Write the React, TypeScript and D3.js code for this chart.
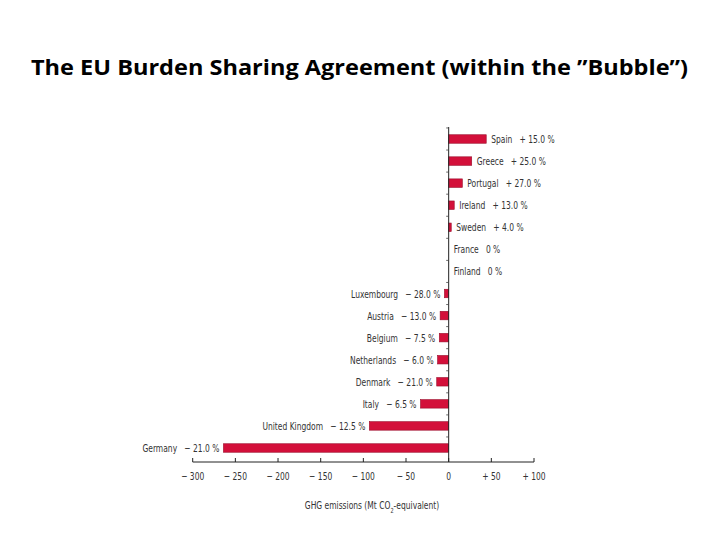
import React from "react";
import * as d3 from "d3";

const countries = ["Spain", "Greece", "Portugal", "Ireland", "Sweden", "France", "Finland", "Luxembourg", "Austria", "Belgium", "Netherlands", "Denmark", "Italy", "United Kingdom", "Germany"];
const emissions = [44, 27, 16, 6.5, 3, 0, 0, -5, -10, -11, -13, -14, -33, -93, -264];
const targets = ["+ 15.0 %", "+ 25.0 %", "+ 27.0 %", "+ 13.0 %", "+ 4.0 %", "0 %", "0 %", "− 28.0 %", "− 13.0 %", "− 7.5 %", "− 6.0 %", "− 21.0 %", "− 6.5 %", "− 12.5 %", "− 21.0 %"];
const xTicks = [-300, -250, -200, -150, -100, -50, 0, 50, 100];
const xTickLabels = ["− 300", "− 250", "− 200", "− 150", "− 100", "− 50", "0", "+ 50", "+ 100"];
const titleText = "The EU Burden Sharing Agreement (within the ”Bubble”)";

const FONT = "'DejaVu Sans Condensed', 'DejaVu Sans', sans-serif";
const SX = 0.8;

function SText(props: { x: number; y: number; anchor: "start" | "middle" | "end"; size: number; children: React.ReactNode }) {
  return (
    <text
      transform={`translate(${props.x},${props.y}) scale(${SX},1)`}
      textAnchor={props.anchor}
      fontFamily={FONT}
      fontSize={props.size}
      fill="#333"
      style={{ whiteSpace: "pre" }}
    >
      {props.children}
    </text>
  );
}

export default function App() {
  const x = d3.scaleLinear().domain([-300, 100]).range([192.7, 534]);
  const y = d3.scalePoint<string>().domain(countries).range([139, 448]);
  const step = y.step();
  const barH = 8.5;
  const axisY = 462;
  const x0 = x(0);
  const boundaries = d3.range(countries.length + 1).map((i) => 139 - step / 2 + i * step);

  return (
    <svg width={720} height={540} style={{ position: "absolute", left: 0, top: 0, background: "#fff" }}>
      <text x={359.5} y={75} textAnchor="middle" fontFamily="'Open Sans', sans-serif" fontWeight="bold" fontSize={21.5} fill="#000" textLength={657} lengthAdjust="spacingAndGlyphs">
        {titleText}
      </text>
      {countries.map((c, i) => {
        const v = emissions[i];
        const cy = y(c)!;
        const xa = x(Math.min(0, v));
        const xb = x(Math.max(0, v));
        const label = `${c}   ${targets[i]}`;
        const neg = v < 0;
        return (
          <g key={c}>
            {v !== 0 && (
              <rect x={xa} y={cy - barH / 2} width={xb - xa} height={barH} fill="#d3103a" stroke="#9a0c2a" strokeWidth={0.6} />
            )}
            <SText x={neg ? xa - 4 : xb + 5} y={cy + 4} anchor={neg ? "end" : "start"} size={10.5}>
              {label}
            </SText>
          </g>
        );
      })}
      <line x1={x0} x2={x0} y1={127} y2={axisY} stroke="#222" strokeWidth={1} />
      {boundaries.slice(0, -1).map((b, i) => (
        <line key={"yt" + i} x1={x0 - 2.5} x2={x0} y1={b} y2={b} stroke="#444" strokeWidth={0.8} />
      ))}
      <line x1={x(-300)} x2={x(100)} y1={axisY} y2={axisY} stroke="#222" strokeWidth={1} />
      {xTicks.map((t, i) => (
        <g key={"xt" + t}>
          <line x1={x(t)} x2={x(t)} y1={axisY} y2={axisY - 4} stroke="#222" strokeWidth={1} />
          <SText x={x(t)} y={480} anchor="middle" size={10.5}>
            {xTickLabels[i]}
          </SText>
        </g>
      ))}
      <SText x={372} y={509} anchor="middle" size={10.5}>
        GHG emissions (Mt CO<tspan baselineShift="sub" fontSize={7}>2</tspan>-equivalent)
      </SText>
    </svg>
  );
}
